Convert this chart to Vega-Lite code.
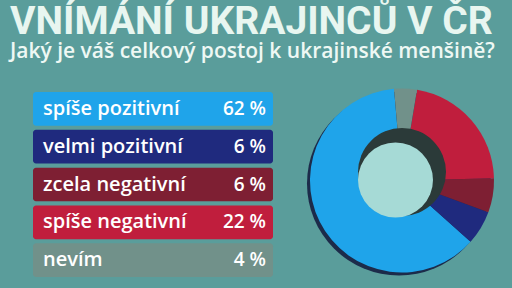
{
  "$schema": "https://vega.github.io/schema/vega-lite/v6.json",
  "background": "#5a9d9b",
  "padding": {"left": 10, "top": 2, "right": 21, "bottom": 11},
  "config": {
    "view": {"stroke": null},
    "font": "Open Sans",
    "concat": {"spacing": 34}
  },
  "title": {
    "text": "VNÍMÁNÍ UKRAJINCŮ V ČR",
    "subtitle": "Jaký je váš celkový postoj k ukrajinské menšině?",
    "anchor": "start",
    "dx": -23,
    "font": "Roboto",
    "fontSize": 39,
    "fontWeight": "bold",
    "color": "#e8f6f0",
    "subtitleFont": "Open Sans",
    "subtitleFontSize": 21,
    "subtitleFontWeight": 600,
    "subtitleColor": "#eef8f4",
    "subtitlePadding": -1,
    "offset": 27
  },
  "data": {
    "values": [
      {"kat": "spíše pozitivní", "pct": 62, "poradi": 1, "kruh": 5},
      {"kat": "velmi pozitivní", "pct": 6, "poradi": 2, "kruh": 4},
      {"kat": "zcela negativní", "pct": 6, "poradi": 3, "kruh": 3},
      {"kat": "spíše negativní", "pct": 22, "poradi": 4, "kruh": 2},
      {"kat": "nevím", "pct": 4, "poradi": 5, "kruh": 1}
    ]
  },
  "transform": [{"calculate": "datum.pct + ' %'", "as": "popis"}],
  "hconcat": [
    {
      "width": 240,
      "height": 185,
      "encoding": {
        "y": {"field": "kat", "type": "nominal", "sort": {"field": "poradi"}, "axis": null,
              "scale": {"paddingInner": 0.11, "paddingOuter": 0}}
      },
      "layer": [
        {
          "mark": {"type": "rect", "cornerRadius": 3},
          "encoding": {
            "x": {"datum": 0, "type": "quantitative", "scale": {"domain": [0, 1]}, "axis": null},
            "x2": {"datum": 1},
            "color": {"field": "kat", "type": "nominal", "legend": null,
              "scale": {"domain": ["spíše pozitivní", "velmi pozitivní", "zcela negativní", "spíše negativní", "nevím"],
                        "range": ["#1fa4ea", "#1f2a7e", "#7e1f33", "#c01e3d", "#71918a"]}}
          }
        },
        {
          "mark": {"type": "text", "align": "left", "dx": 10, "fontSize": 20, "fontWeight": 600, "color": "#ffffff", "baseline": "middle"},
          "encoding": {
            "x": {"datum": 0, "type": "quantitative"},
            "text": {"field": "kat"}
          }
        },
        {
          "mark": {"type": "text", "align": "right", "dx": -7, "fontSize": 19, "fontWeight": 600, "color": "#ffffff", "baseline": "middle"},
          "encoding": {
            "x": {"datum": 1, "type": "quantitative"},
            "text": {"field": "popis"}
          }
        }
      ]
    },
    {
      "width": 184,
      "height": 185,
      "layer": [
        {
          "transform": [{"aggregate": [{"op": "sum", "field": "pct", "as": "celkem"}]}],
          "mark": {"type": "arc", "outerRadius": 92, "innerRadius": 0, "xOffset": -3, "yOffset": -1, "color": "#1c2b4a"},
          "encoding": {
            "theta": {"field": "celkem", "type": "quantitative", "scale": {"domain": [0, 100]}}
          }
        },
        {
          "mark": {"type": "arc", "outerRadius": 92, "innerRadius": 0, "yOffset": -4},
          "encoding": {
            "theta": {"field": "pct", "type": "quantitative", "stack": true,
                      "scale": {"range": [-0.087, 6.196]}},
            "order": {"field": "kruh", "type": "quantitative"},
            "color": {"field": "kat", "type": "nominal", "legend": null}
          }
        },
        {
          "transform": [{"aggregate": [{"op": "sum", "field": "pct", "as": "celkem"}]}],
          "mark": {"type": "arc", "outerRadius": 44, "innerRadius": 0, "yOffset": -12.5, "color": "#2b3a39"},
          "encoding": {
            "theta": {"field": "celkem", "type": "quantitative", "scale": {"domain": [0, 100]}}
          }
        },
        {
          "transform": [{"aggregate": [{"op": "sum", "field": "pct", "as": "celkem"}]}],
          "mark": {"type": "arc", "outerRadius": 37.5, "innerRadius": 0, "xOffset": -6.5, "yOffset": -4.5, "color": "#a6dad6"},
          "encoding": {
            "theta": {"field": "celkem", "type": "quantitative", "scale": {"domain": [0, 100]}}
          }
        }
      ],
      "resolve": {"scale": {"theta": "independent"}}
    }
  ]
}
